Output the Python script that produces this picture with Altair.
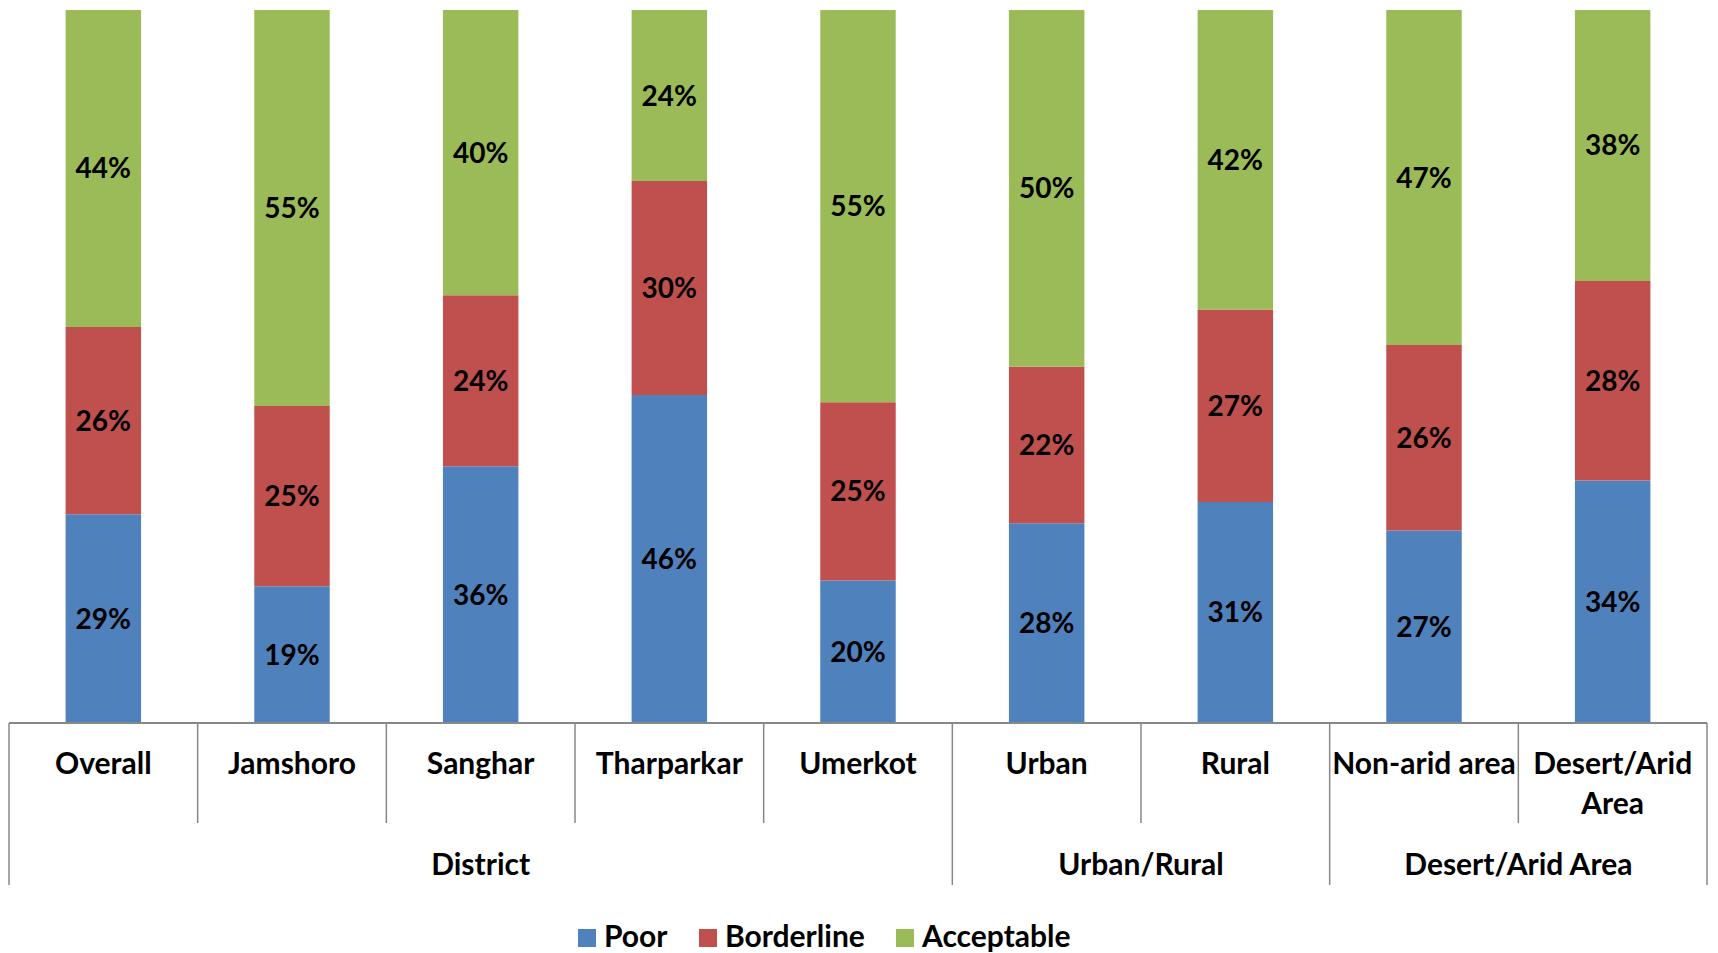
import altair as alt
import pandas as pd

cats = ["Overall", "Jamshoro", "Sanghar", "Tharparkar", "Umerkot",
        "Urban", "Rural", "Non-arid area", "Desert/Arid Area"]
cat_labels = ["Overall", "Jamshoro", "Sanghar", "Tharparkar", "Umerkot",
              "Urban", "Rural", "Non-arid area", "Desert/Arid\nArea"]
groups = ["District"] * 5 + ["Urban/Rural"] * 2 + ["Desert/Arid Area"] * 2
statuses = ["Poor", "Borderline", "Acceptable"]
colors = ["#4F81BD", "#C0504D", "#9BBB59"]
poor = [29, 19, 36, 46, 20, 28, 31, 27, 34]
borderline = [26, 25, 24, 30, 25, 22, 27, 26, 28]
acceptable = [44, 55, 40, 24, 55, 50, 42, 47, 38]

W, H = 1698, 713
FONT = "Lato"
FS = 28
AFS = 30
GRID = "#878787"

rows = []
for i, c in enumerate(cats):
    for k, (s, vals) in enumerate(zip(statuses, [poor, borderline, acceptable])):
        rows.append({"cat": c, "group": groups[i], "status": s, "value": vals[i], "order": k})
df = pd.DataFrame(rows)

cat_df = pd.DataFrame({
    "cat": cats,
    "label": cat_labels,
    "group": groups,
    "idx": list(range(len(cats))),
    "start": [i == 0 or groups[i] != groups[i - 1] for i in range(len(cats))],
})

xband = alt.X("cat:N", sort=cats, scale=alt.Scale(paddingInner=0, paddingOuter=0), axis=None)
xq = alt.Scale(domain=[0, len(cats)], nice=False, zero=True)

stacked = alt.Chart(df).transform_stack(
    stack="value", groupby=["cat"], as_=["y0", "y1"],
    sort=[alt.SortField("order")], offset="normalize",
)

bars = stacked.mark_bar(width=alt.RelativeBandSize(0.4)).encode(
    x=xband,
    y=alt.Y("y0:Q", scale=alt.Scale(domain=[0, 1], nice=False), axis=None),
    y2="y1:Q",
    color=alt.Color(
        "status:N",
        scale=alt.Scale(domain=statuses, range=colors),
        legend=alt.Legend(
            title=None, orient="none", direction="horizontal",
            legendX=563, legendY=H + 200,
            symbolType="square", symbolSize=324, symbolStrokeWidth=0,
            labelFont=FONT, labelFontSize=AFS, labelFontWeight="bold",
            labelColor="#000000", labelOffset=2, columnPadding=25,
        ),
    ),
)

labels = stacked.transform_calculate(
    mid="(datum.y0 + datum.y1) / 2",
    txt="datum.value + '%'",
).mark_text(font=FONT, fontSize=FS, fontWeight="bold", color="#000000", baseline="middle", dy=2).encode(
    x=xband,
    y=alt.Y("mid:Q", scale=alt.Scale(domain=[0, 1], nice=False), axis=None),
    text="txt:N",
)

cat_text = alt.Chart(cat_df).mark_text(
    font=FONT, fontSize=AFS, fontWeight="bold", color="#000000",
    baseline="top", lineBreak="\n", lineHeight=40,
).encode(
    x=xband,
    y=alt.value(H + 27),
    text="label:N",
)

axis_line = alt.Chart(pd.DataFrame({"a": [0]})).mark_rule(color=GRID, strokeWidth=2).encode(
    x=alt.value(0), x2=alt.value(W), y=alt.value(H)
)

inner_rules = alt.Chart(cat_df).transform_filter("!datum.start").mark_rule(color=GRID, strokeWidth=1.5).encode(
    x=alt.X("idx:Q", scale=xq, axis=None),
    y=alt.value(H), y2=alt.value(H + 100),
)

group_rules = alt.Chart(cat_df).transform_filter("datum.start").mark_rule(color=GRID, strokeWidth=1.5).encode(
    x=alt.X("idx:Q", scale=xq, axis=None),
    y=alt.value(H), y2=alt.value(H + 162),
)

end_rule = alt.Chart(pd.DataFrame({"a": [0]})).mark_rule(color=GRID, strokeWidth=1.5).encode(
    x=alt.value(W), y=alt.value(H), y2=alt.value(H + 162)
)

group_text = alt.Chart(cat_df).transform_aggregate(
    s="min(idx)", e="max(idx)", groupby=["group"]
).transform_calculate(
    mid="(datum.s + datum.e + 1) / 2"
).mark_text(font=FONT, fontSize=AFS, fontWeight="bold", color="#000000", baseline="middle").encode(
    x=alt.X("mid:Q", scale=xq, axis=None),
    y=alt.value(H + 143),
    text="group:N",
)

chart = alt.layer(
    bars, labels, cat_text, axis_line, inner_rules, group_rules, end_rule, group_text
).resolve_scale(x="independent").properties(
    width=W, height=H,
    padding={"left": 0, "top": 2, "right": 0, "bottom": 0},
).configure_view(stroke=None)

chart.save("out.html", embed_options={"renderer": "svg", "actions": False})
